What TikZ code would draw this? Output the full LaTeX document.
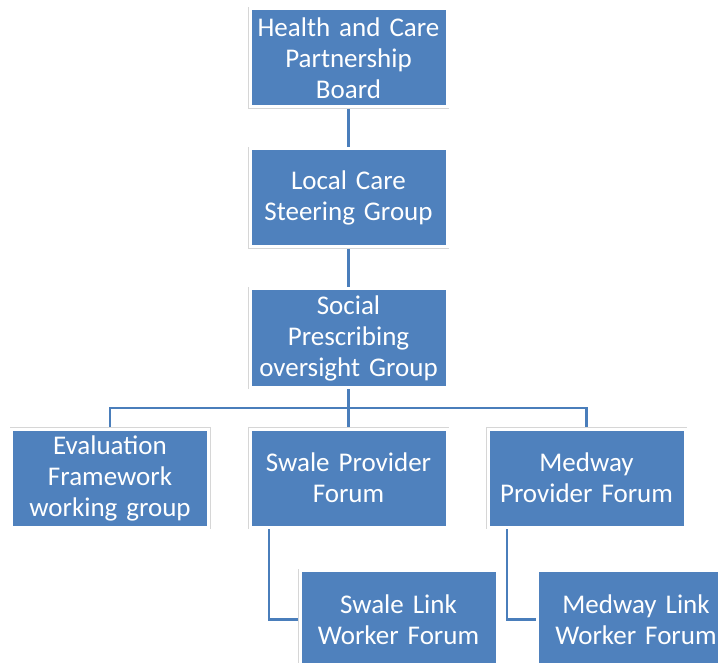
\documentclass[tikz,border=0pt]{standalone}
\usepackage{fontspec}
\setmainfont{Carlito}
\usetikzlibrary{positioning}
\definecolor{orgblue}{RGB}{79, 129, 189}
\definecolor{linkblue}{RGB}{74, 126, 187}
\definecolor{rim}{RGB}{214, 214, 214}

\begin{document}
\begin{tikzpicture}[every node/.style={inner sep=0pt},
  orgbox/.style={rectangle, minimum width=197pt, minimum height=98pt, text width=190pt, align=center,
    preaction={draw=rim, line width=4pt}, fill=orgblue, draw=white, line width=3pt, outer sep=2pt,
    text=white, font=\fontsize{27}{31}\selectfont},
  link/.style={draw=linkblue, line width=2.6pt}]
\useasboundingbox (0pt, 0pt) rectangle (718pt, -663pt);
\clip (0pt, 0pt) rectangle (718pt, -663pt);
% boards and groups
\node (hcpb) [orgbox] at (348.5pt, -58.0pt) {Health and Care\\Partnership\\Board};
\node (lcsg) [orgbox] at (348.5pt, -198.0pt) {Local Care\\Steering Group};
\node (spog) [orgbox] at (348.5pt, -338.0pt) {Social\\Prescribing\\oversight Group};
% forums
\node (efwg) [orgbox] at (110.0pt, -478.0pt) {Evaluation\\Framework\\working group};
\node (spf) [orgbox] at (348.5pt, -478.0pt) {Swale Provider\\Forum};
\node (mpf) [orgbox] at (586.5pt, -478.0pt) {Medway\\Provider Forum};
\node (slwf) [orgbox] at (398.5pt, -619.5pt) {Swale Link\\Worker Forum};
\node (mlwf) [orgbox] at (636.0pt, -619.5pt) {Medway Link\\Worker Forum};
\coordinate (fork) at (348.5pt, -408.0pt);
\draw [link] (hcpb) to (lcsg);
\draw [link] (lcsg) to (spog);
\draw [link] (spog) to (spf);
\draw [link] (efwg.north) |- (fork) -| (mpf.north);
\draw [link] ([xshift=21pt]spf.south west) |- (slwf);
\draw [link] ([xshift=21pt]mpf.south west) |- (mlwf);
\end{tikzpicture}
\end{document}
